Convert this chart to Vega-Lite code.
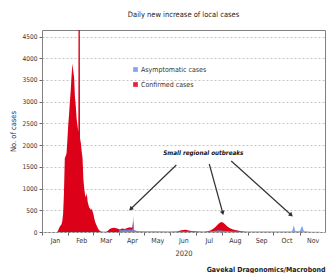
{
  "$schema": "https://vega.github.io/schema/vega-lite/v6.json",
  "padding": {"left": 8, "top": 10, "right": 5, "bottom": 0},
  "background": "white",
  "config": {
    "font": "Liberation Sans Narrow, DejaVu Sans Condensed, Liberation Sans",
    "view": {"stroke": "#808080", "strokeWidth": 1}
  },
  "title": {"text": "Gavekal Dragonomics/Macrobond", "orient": "bottom", "anchor": "end", "fontSize": 7, "fontWeight": "bold", "color": "#222", "offset": 9},
  "datasets": {
    "confirmed": [
      {"d": "2020-01-01", "v": 0}, {"d": "2020-01-19", "v": 0}, {"d": "2020-01-20", "v": 30}, {"d": "2020-01-21", "v": 80},
      {"d": "2020-01-22", "v": 120}, {"d": "2020-01-23", "v": 150}, {"d": "2020-01-24", "v": 170}, {"d": "2020-01-25", "v": 250},
      {"d": "2020-01-26", "v": 420}, {"d": "2020-01-27", "v": 900}, {"d": "2020-01-28", "v": 1700}, {"d": "2020-01-29", "v": 1750},
      {"d": "2020-01-30", "v": 1800}, {"d": "2020-01-31", "v": 2100}, {"d": "2020-02-01", "v": 2450}, {"d": "2020-02-02", "v": 2700},
      {"d": "2020-02-03", "v": 3000}, {"d": "2020-02-04", "v": 3250}, {"d": "2020-02-05", "v": 3600}, {"d": "2020-02-06", "v": 3880},
      {"d": "2020-02-07", "v": 3700}, {"d": "2020-02-08", "v": 3550}, {"d": "2020-02-09", "v": 3100}, {"d": "2020-02-10", "v": 2900},
      {"d": "2020-02-11", "v": 2600}, {"d": "2020-02-12", "v": 2450}, {"d": "2020-02-13", "v": 2300}, {"d": "2020-02-14", "v": 14000},
      {"d": "2020-02-15", "v": 2150}, {"d": "2020-02-16", "v": 2050}, {"d": "2020-02-17", "v": 1850}, {"d": "2020-02-18", "v": 1700},
      {"d": "2020-02-19", "v": 1200}, {"d": "2020-02-20", "v": 1000}, {"d": "2020-02-21", "v": 850}, {"d": "2020-02-22", "v": 800},
      {"d": "2020-02-23", "v": 900}, {"d": "2020-02-24", "v": 700}, {"d": "2020-02-25", "v": 620}, {"d": "2020-02-26", "v": 560},
      {"d": "2020-02-27", "v": 540}, {"d": "2020-02-28", "v": 500}, {"d": "2020-02-29", "v": 540}, {"d": "2020-03-01", "v": 460},
      {"d": "2020-03-02", "v": 400}, {"d": "2020-03-03", "v": 300}, {"d": "2020-03-04", "v": 230}, {"d": "2020-03-05", "v": 180},
      {"d": "2020-03-06", "v": 140}, {"d": "2020-03-07", "v": 90}, {"d": "2020-03-08", "v": 60}, {"d": "2020-03-09", "v": 35},
      {"d": "2020-03-10", "v": 20}, {"d": "2020-03-11", "v": 10}, {"d": "2020-03-13", "v": 5}, {"d": "2020-03-17", "v": 5},
      {"d": "2020-03-19", "v": 30}, {"d": "2020-03-21", "v": 70}, {"d": "2020-03-24", "v": 90}, {"d": "2020-03-27", "v": 100},
      {"d": "2020-03-30", "v": 80}, {"d": "2020-04-02", "v": 60}, {"d": "2020-04-05", "v": 80}, {"d": "2020-04-08", "v": 70},
      {"d": "2020-04-11", "v": 90}, {"d": "2020-04-14", "v": 110}, {"d": "2020-04-16", "v": 100}, {"d": "2020-04-17", "v": 120},
      {"d": "2020-04-18", "v": 250}, {"d": "2020-04-19", "v": 40}, {"d": "2020-04-22", "v": 15}, {"d": "2020-04-30", "v": 5},
      {"d": "2020-05-15", "v": 5}, {"d": "2020-05-30", "v": 3}, {"d": "2020-06-09", "v": 10}, {"d": "2020-06-14", "v": 40},
      {"d": "2020-06-19", "v": 50}, {"d": "2020-06-24", "v": 30}, {"d": "2020-06-29", "v": 20}, {"d": "2020-07-04", "v": 10},
      {"d": "2020-07-11", "v": 5}, {"d": "2020-07-15", "v": 15}, {"d": "2020-07-19", "v": 40}, {"d": "2020-07-23", "v": 90},
      {"d": "2020-07-26", "v": 150}, {"d": "2020-07-28", "v": 190}, {"d": "2020-07-30", "v": 220}, {"d": "2020-08-01", "v": 230},
      {"d": "2020-08-03", "v": 210}, {"d": "2020-08-05", "v": 170}, {"d": "2020-08-07", "v": 130}, {"d": "2020-08-10", "v": 90},
      {"d": "2020-08-14", "v": 60}, {"d": "2020-08-18", "v": 40}, {"d": "2020-08-24", "v": 20}, {"d": "2020-08-30", "v": 8},
      {"d": "2020-09-07", "v": 3}, {"d": "2020-10-17", "v": 3}, {"d": "2020-10-27", "v": 5}, {"d": "2020-11-16", "v": 2},
      {"d": "2020-11-21", "v": 0}
    ],
    "asymptomatic": [
      {"d": "2020-04-01", "v": 0}, {"d": "2020-04-02", "v": 50}, {"d": "2020-04-05", "v": 40}, {"d": "2020-04-08", "v": 60},
      {"d": "2020-04-11", "v": 50}, {"d": "2020-04-14", "v": 60}, {"d": "2020-04-17", "v": 50}, {"d": "2020-04-18", "v": 380},
      {"d": "2020-04-19", "v": 40}, {"d": "2020-04-25", "v": 20}, {"d": "2020-05-05", "v": 15}, {"d": "2020-05-15", "v": 20},
      {"d": "2020-05-25", "v": 10}, {"d": "2020-06-05", "v": 5}, {"d": "2020-06-15", "v": 10}, {"d": "2020-06-25", "v": 10},
      {"d": "2020-07-10", "v": 5}, {"d": "2020-07-20", "v": 20}, {"d": "2020-07-28", "v": 40}, {"d": "2020-08-03", "v": 30},
      {"d": "2020-08-15", "v": 10}, {"d": "2020-09-01", "v": 5}, {"d": "2020-10-01", "v": 5}, {"d": "2020-10-20", "v": 3},
      {"d": "2020-10-23", "v": 10}, {"d": "2020-10-25", "v": 150}, {"d": "2020-10-27", "v": 20}, {"d": "2020-11-01", "v": 15},
      {"d": "2020-11-04", "v": 145}, {"d": "2020-11-06", "v": 15}, {"d": "2020-11-15", "v": 5}, {"d": "2020-11-25", "v": 3}
    ],
    "arrows": [
      {"id": 1, "d": "2020-06-08", "v": 1542, "d2": "2020-04-15", "v2": 530},
      {"id": 2, "d": "2020-07-17", "v": 1565, "d2": "2020-08-02", "v2": 437},
      {"id": 3, "d": "2020-08-12", "v": 1634, "d2": "2020-10-22", "v2": 391}
    ],
    "heads": [
      {"id": 1, "d": "2020-04-15", "v": 530},
      {"id": 2, "d": "2020-08-02", "v": 437},
      {"id": 3, "d": "2020-10-22", "v": 391}
    ],
    "note": [
      {"d": "2020-07-10", "v": 1820, "t": "Small regional outbreaks"}
    ]
  },
  "vconcat": [
    {
      "width": 283,
      "height": 202,
      "title": {"text": "Daily new increase of local cases", "fontSize": 7.5, "fontWeight": "normal", "color": "#222", "offset": 12},
      "encoding": {
        "x": {
          "field": "d", "type": "temporal",
          "scale": {"domain": [{"year": 2020, "month": 1, "date": 1}, {"year": 2020, "month": 12, "date": 1}]},
          "axis": {
            "title": "2020",
            "values": [
              {"year": 2020, "month": 1, "date": 1}, {"year": 2020, "month": 2, "date": 1}, {"year": 2020, "month": 3, "date": 1},
              {"year": 2020, "month": 4, "date": 1}, {"year": 2020, "month": 5, "date": 1}, {"year": 2020, "month": 6, "date": 1},
              {"year": 2020, "month": 7, "date": 1}, {"year": 2020, "month": 8, "date": 1}, {"year": 2020, "month": 9, "date": 1},
              {"year": 2020, "month": 10, "date": 1}, {"year": 2020, "month": 11, "date": 1}
            ],
            "format": "%b", "labelOffset": 13, "labelFlush": false, "labelOverlap": false,
            "tickSize": 3, "tickColor": "#666", "labelFontSize": 7, "labelColor": "#333", "labelPadding": 1,
            "grid": false, "domain": false,
            "titleFontSize": 7.5, "titleFontWeight": "normal", "titleColor": "#333", "titlePadding": 6
          }
        },
        "y": {
          "field": "v", "type": "quantitative",
          "scale": {"domain": [0, 4650], "nice": false},
          "axis": {
            "title": "No. of cases",
            "values": [0, 500, 1000, 1500, 2000, 2500, 3000, 3500, 4000, 4500],
            "format": "d", "labelOverlap": false,
            "grid": true, "gridDash": [2, 2], "gridColor": "#c4c4c4",
            "tickSize": 3, "tickColor": "#666", "labelFontSize": 6.5, "labelColor": "#333", "labelPadding": 2,
            "domain": false,
            "titleFontSize": 7.5, "titleFontWeight": "normal", "titleColor": "#333", "titlePadding": 5
          }
        }
      },
      "layer": [
        {
          "data": {"name": "confirmed"},
          "mark": {"type": "area", "clip": true, "interpolate": "linear"},
          "encoding": {
            "color": {
              "datum": "Confirmed cases", "type": "nominal",
              "scale": {"domain": ["Asymptomatic cases", "Confirmed cases"], "range": ["#6f94e8", "#dc0018"]},
              "legend": {
                "title": null, "orient": "none", "legendX": 90, "legendY": 36,
                "symbolType": "square", "symbolSize": 22, "symbolStrokeWidth": 0,
                "labelFontSize": 7, "labelColor": "#333", "rowPadding": 7, "labelOffset": 2
              }
            }
          }
        },
        {
          "data": {"name": "asymptomatic"},
          "mark": {"type": "area", "clip": true, "interpolate": "linear", "opacity": 0.85},
          "encoding": {
            "color": {
              "datum": "Asymptomatic cases", "type": "nominal",
              "scale": {"domain": ["Asymptomatic cases", "Confirmed cases"], "range": ["#6f94e8", "#dc0018"]}
            }
          }
        },
        {
          "data": {"name": "arrows"},
          "mark": {"type": "rule", "color": "#333", "strokeWidth": 1.2},
          "encoding": {
            "x2": {"field": "d2"},
            "y2": {"field": "v2"}
          }
        },
        {
          "data": {"name": "heads"},
          "mark": {"type": "point", "shape": "triangle-up", "filled": true, "color": "#333", "size": 24, "opacity": 1},
          "encoding": {
            "angle": {"field": "id", "type": "quantitative", "scale": {"domain": [1, 2, 3], "range": [226, 164, 132]}, "legend": null}
          }
        },
        {
          "data": {"name": "note"},
          "mark": {"type": "text", "fontSize": 6.3, "fontWeight": "bold", "fontStyle": "italic", "color": "#111"},
          "encoding": {
            "text": {"field": "t"}
          }
        }
      ]
    }
  ]
}
